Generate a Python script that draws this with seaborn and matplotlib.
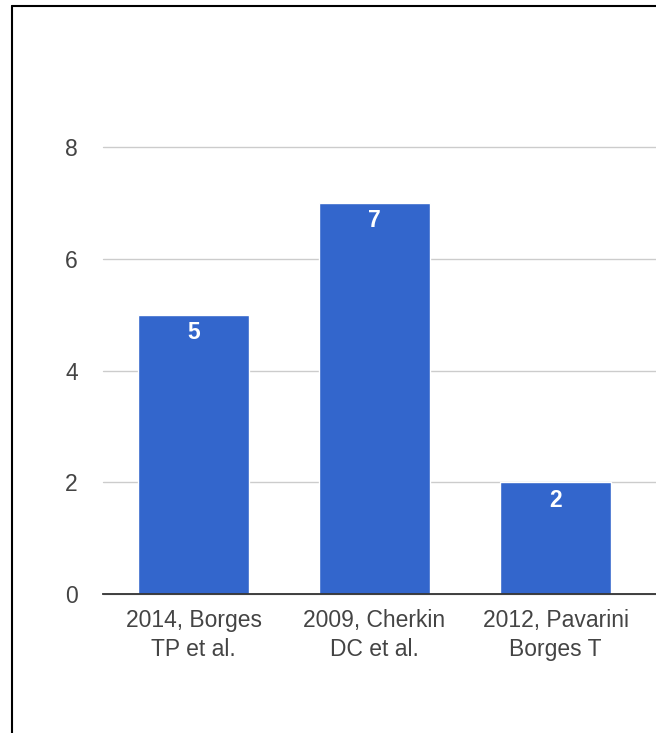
import matplotlib
matplotlib.use("Agg")
import matplotlib.pyplot as plt
import seaborn as sns
from matplotlib.lines import Line2D

studies = ["2014, Borges\nTP et al.", "2009, Cherkin\nDC et al.", "2012, Pavarini\nBorges T"]
counts = [5, 7, 2]
yticks = [0, 2, 4, 6, 8]

BAR = "#3366cc"
TXT = "#444444"

sns.set_theme(style="white")
plt.rcParams["font.family"] = ["Liberation Sans", "DejaVu Sans"]

W, H = 656, 733
fig = plt.figure(figsize=(W / 100, H / 100), dpi=100)
ax = fig.add_axes([103 / W, (H - 594) / H, (W - 103) / W, (594 - 147) / H])

sns.barplot(x=studies, y=counts, color=BAR, saturation=1, width=0.613, ax=ax)

ax.set_ylim(0, 8)
ax.set_xlim(-0.5, 2.555)
ax.set_yticks(yticks)
ax.set_yticklabels([str(t) for t in yticks])
ax.set_xlabel("")
ax.set_ylabel("")

ax.set_axisbelow(True)
ax.yaxis.grid(True, color="#cccccc", linewidth=1)
for gl in ax.get_ygridlines():
    gl.set_clip_on(False)
for s in ["left", "right", "top"]:
    ax.spines[s].set_visible(False)
ax.spines["bottom"].set_color("#333333")
ax.spines["bottom"].set_linewidth(1.3)

ax.tick_params(axis="y", length=0, pad=18, labelsize=16.5, labelcolor=TXT)
ax.tick_params(axis="x", length=0, pad=11, labelsize=16.5, labelcolor=TXT)
for lbl in ax.get_xticklabels():
    lbl.set_linespacing(1.3)

# value labels inside bar tops
for p, v in zip(ax.patches, counts):
    ax.annotate(str(v), (p.get_x() + p.get_width() / 2, p.get_height()),
                xytext=(0, -13), textcoords="offset points",
                ha="center", va="center", color="white",
                fontsize=16.5, fontweight="bold")

# screenshot frame (left and top edges)
fig.add_artist(Line2D([11.5 / W, 11.5 / W], [0, 1 - 5.5 / H],
                      transform=fig.transFigure, color="black", lw=1.5))
fig.add_artist(Line2D([11.5 / W, 1], [1 - 5.5 / H, 1 - 5.5 / H],
                      transform=fig.transFigure, color="black", lw=1.5))

fig.savefig("out.png", dpi=100, facecolor="white")
